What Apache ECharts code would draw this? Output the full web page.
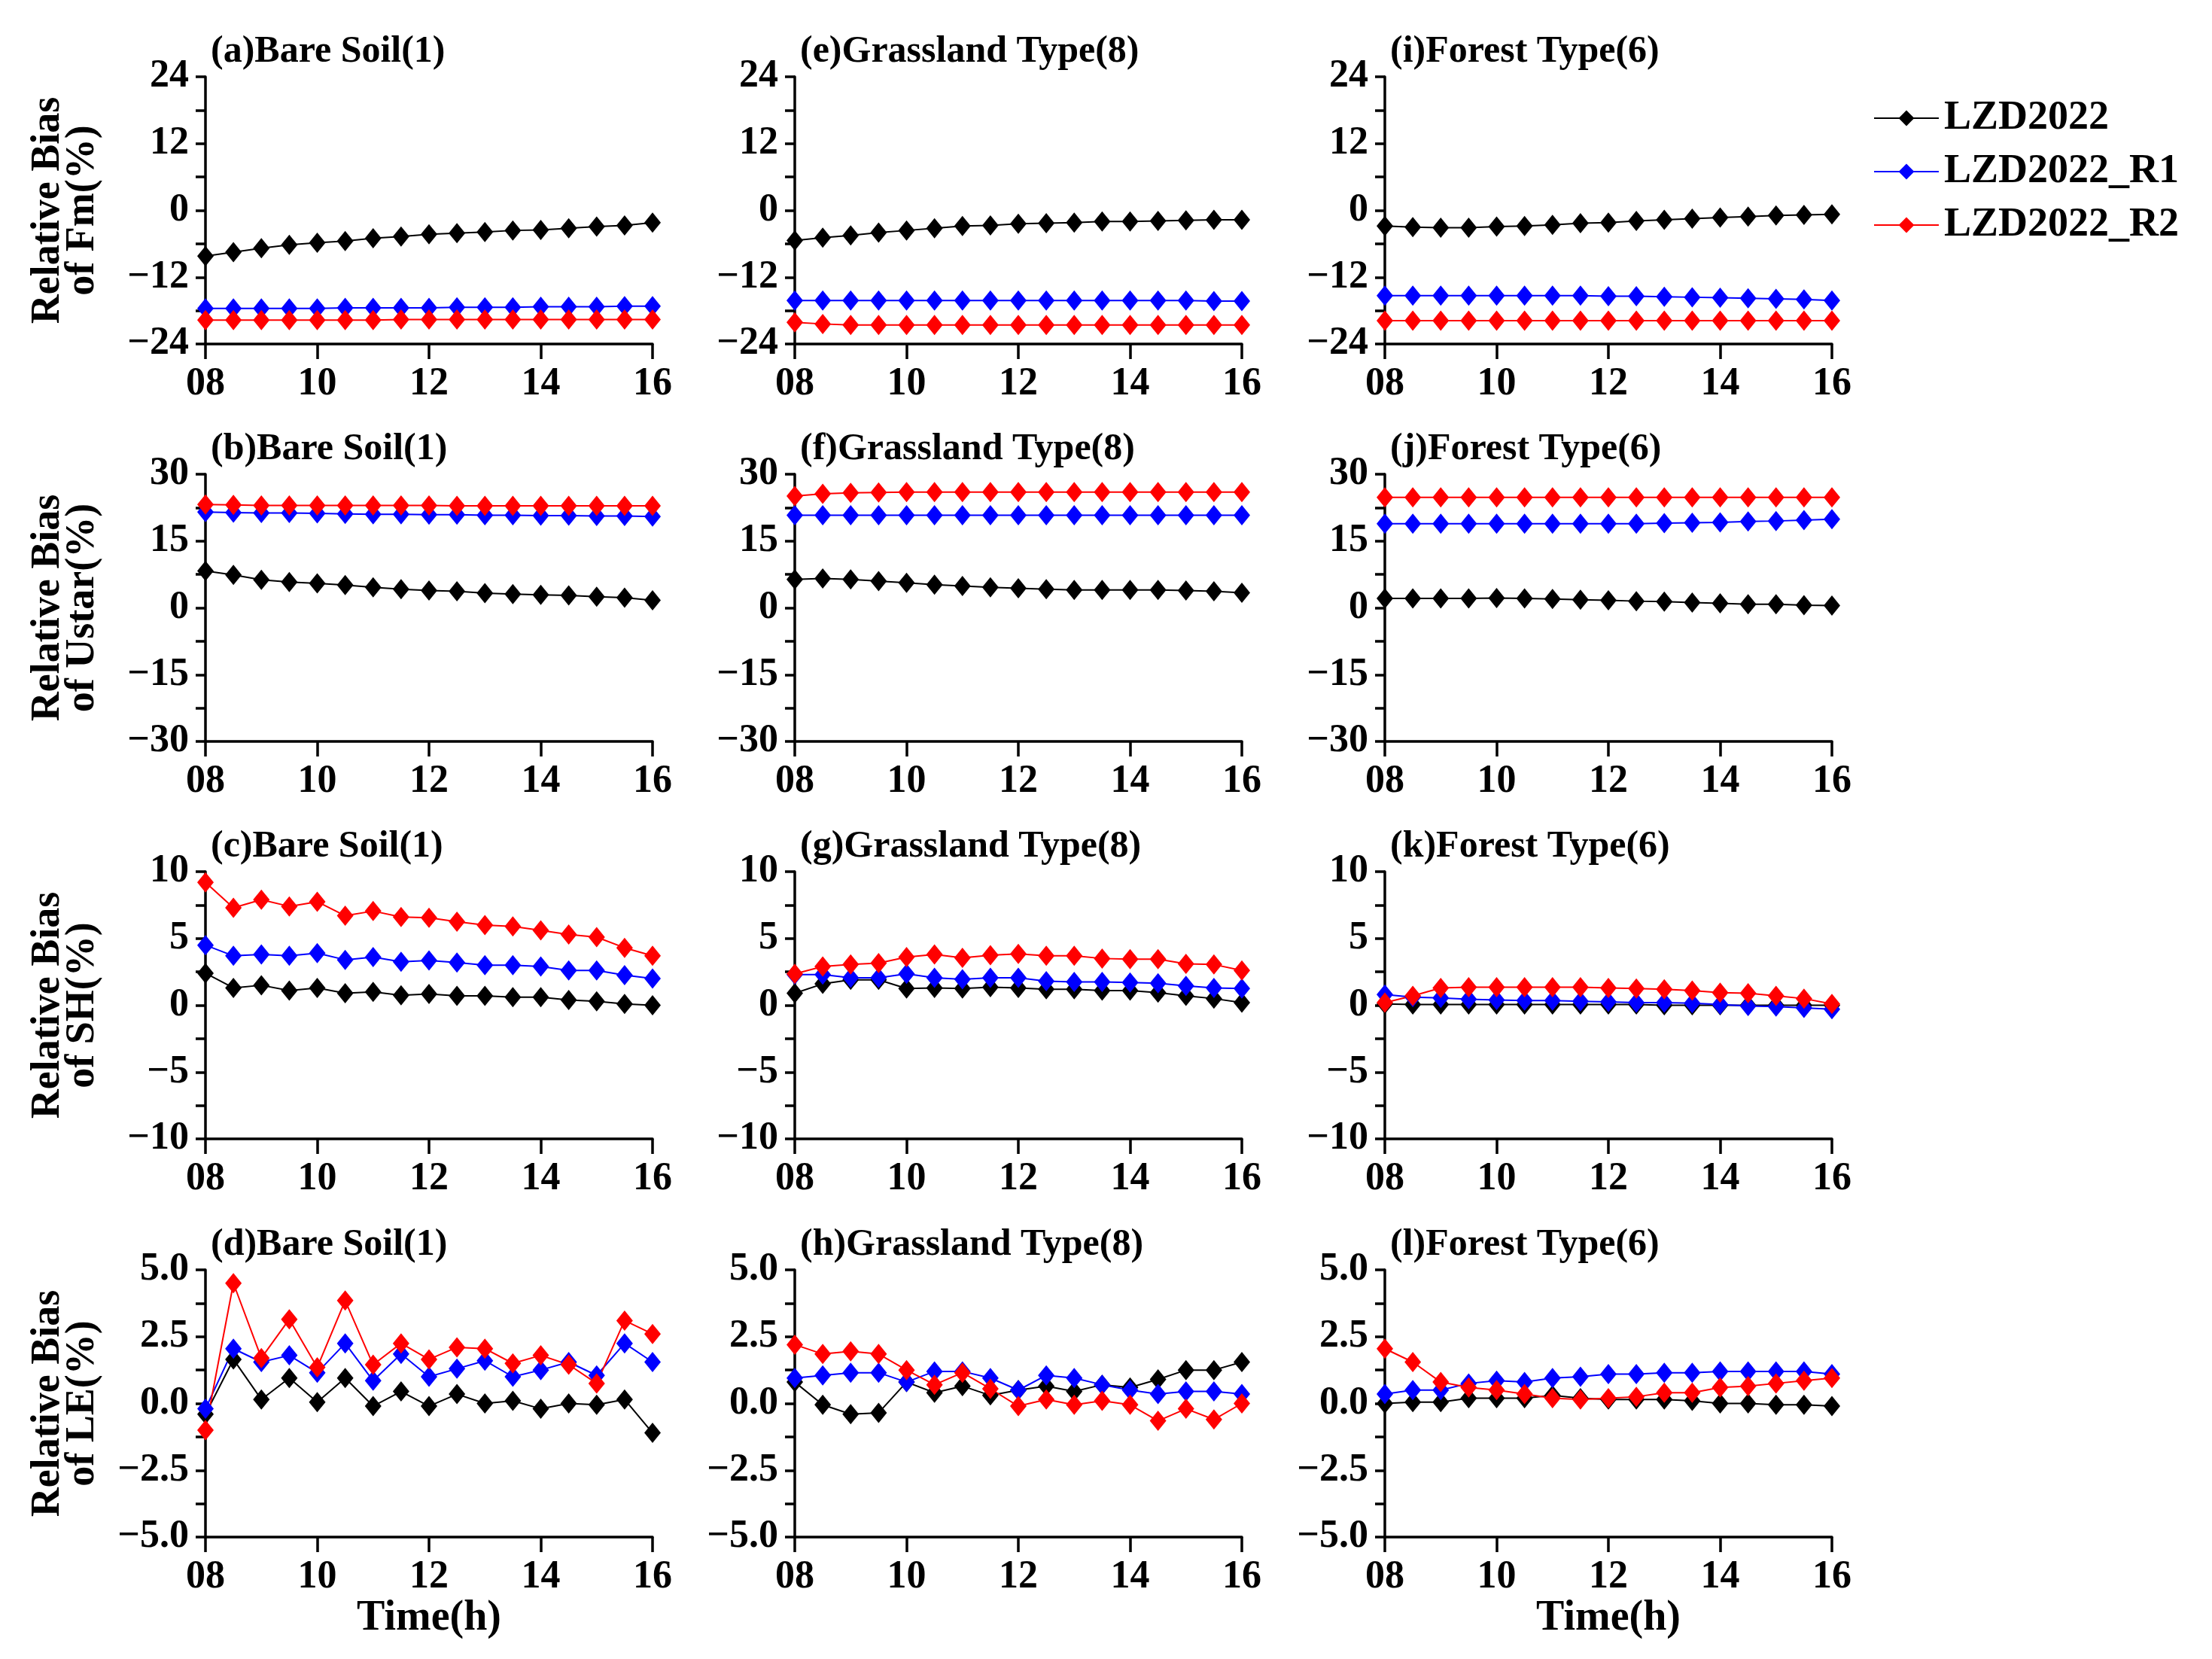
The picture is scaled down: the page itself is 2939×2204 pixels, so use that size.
<!DOCTYPE html>
<html>
<head>
<meta charset="utf-8">
<title>Relative Bias</title>
<script src="https://cdn.jsdelivr.net/npm/echarts@6/dist/echarts.min.js"></script>
<style>
    html, body { margin: 0; padding: 0; background: #fff; }
    #chart { width: 2939px; height: 2204px; }
</style>
</head>
<body>
<div id="chart"></div>
<script>
'use strict';

var hours = [8, 8.5, 9, 9.5, 10, 10.5, 11, 11.5, 12, 12.5, 13, 13.5, 14, 14.5, 15, 15.5, 16];
var seriesNames = ['LZD2022', 'LZD2022_R1', 'LZD2022_R2'];
var panelTitles = [
    '(a)Bare Soil(1)', '(b)Bare Soil(1)', '(c)Bare Soil(1)', '(d)Bare Soil(1)',
    '(e)Grassland Type(8)', '(f)Grassland Type(8)', '(g)Grassland Type(8)', '(h)Grassland Type(8)',
    '(i)Forest Type(6)', '(j)Forest Type(6)', '(k)Forest Type(6)', '(l)Forest Type(6)'
];
var rowNames = ['Relative Bias\nof Fm(%)', 'Relative Bias\nof Ustar(%)', 'Relative Bias\nof SH(%)', 'Relative Bias\nof LE(%)'];
var yTicks = [
    [-24, -12, 0, 12, 24],
    [-30, -15, 0, 15, 30],
    [-10, -5, 0, 5, 10],
    [-5.0, -2.5, 0.0, 2.5, 5.0]
];

// Fm - bare soil / grassland / forest
var aLZD = [-8.2, -7.5, -6.8, -6.2, -5.8, -5.5, -5.0, -4.7, -4.3, -4.1, -3.9, -3.6, -3.5, -3.2, -2.9, -2.7, -2.2];
var aR1 = [-17.6, -17.6, -17.6, -17.6, -17.6, -17.5, -17.5, -17.5, -17.5, -17.4, -17.4, -17.4, -17.3, -17.3, -17.3, -17.2, -17.2];
var aR2 = [-19.7, -19.7, -19.7, -19.7, -19.7, -19.7, -19.7, -19.6, -19.6, -19.6, -19.6, -19.6, -19.6, -19.6, -19.6, -19.6, -19.6];
var eLZD = [-5.4, -4.9, -4.5, -4.0, -3.6, -3.2, -2.8, -2.7, -2.4, -2.3, -2.2, -2.0, -2.0, -1.9, -1.8, -1.7, -1.7];
var eR1 = [-16.2, -16.2, -16.2, -16.2, -16.2, -16.2, -16.2, -16.2, -16.2, -16.2, -16.2, -16.2, -16.2, -16.2, -16.2, -16.3, -16.3];
var eR2 = [-20.1, -20.4, -20.6, -20.6, -20.6, -20.6, -20.6, -20.6, -20.6, -20.6, -20.6, -20.6, -20.6, -20.6, -20.6, -20.6, -20.6];
var iLZD = [-2.8, -3.0, -3.1, -3.1, -2.9, -2.8, -2.6, -2.3, -2.2, -1.9, -1.7, -1.5, -1.3, -1.1, -0.9, -0.8, -0.7];
var iR1 = [-15.3, -15.3, -15.3, -15.3, -15.3, -15.3, -15.3, -15.3, -15.4, -15.4, -15.5, -15.6, -15.7, -15.8, -15.9, -16.0, -16.2];
var iR2 = [-19.8, -19.8, -19.8, -19.8, -19.8, -19.8, -19.8, -19.8, -19.8, -19.8, -19.8, -19.8, -19.8, -19.8, -19.8, -19.8, -19.8];

// Ustar
var bLZD = [8.3, 7.4, 6.3, 5.8, 5.5, 5.1, 4.6, 4.2, 3.9, 3.7, 3.3, 3.1, 2.9, 2.8, 2.5, 2.3, 1.7];
var bR1 = [21.5, 21.4, 21.3, 21.3, 21.2, 21.1, 21.0, 21.0, 20.9, 20.9, 20.8, 20.8, 20.7, 20.7, 20.6, 20.6, 20.5];
var bR2 = [23.2, 23.1, 23.0, 23.0, 23.0, 23.0, 23.0, 23.0, 23.0, 22.9, 22.9, 22.9, 22.9, 22.9, 22.9, 22.9, 22.9];
var fLZD = [6.4, 6.6, 6.4, 6.0, 5.6, 5.2, 4.9, 4.6, 4.4, 4.2, 4.0, 4.0, 4.0, 4.0, 3.9, 3.7, 3.4];
var fR1 = [20.8, 20.8, 20.8, 20.8, 20.8, 20.8, 20.8, 20.8, 20.8, 20.8, 20.8, 20.8, 20.8, 20.8, 20.8, 20.8, 20.8];
var fR2 = [25.1, 25.6, 25.8, 25.9, 26.0, 26.0, 26.0, 26.0, 26.0, 26.0, 26.0, 26.0, 26.0, 26.0, 26.0, 26.0, 26.0];
var jLZD = [2.1, 2.1, 2.1, 2.1, 2.2, 2.1, 2.0, 1.8, 1.7, 1.5, 1.4, 1.2, 1.0, 0.8, 0.8, 0.6, 0.5];
var jR1 = [18.9, 18.9, 18.9, 18.9, 18.9, 18.9, 18.9, 18.9, 18.9, 18.9, 19.0, 19.1, 19.2, 19.4, 19.5, 19.7, 19.9];
var jR2 = [24.8, 24.8, 24.8, 24.8, 24.8, 24.8, 24.8, 24.8, 24.8, 24.8, 24.8, 24.8, 24.8, 24.8, 24.8, 24.8, 24.8];

// SH
var cLZD = [2.4, 1.3, 1.5, 1.1, 1.3, 0.9, 1.0, 0.75, 0.85, 0.7, 0.7, 0.6, 0.6, 0.4, 0.3, 0.1, 0.0];
var cR1 = [4.5, 3.7, 3.8, 3.7, 3.9, 3.4, 3.6, 3.25, 3.35, 3.2, 3.0, 3.0, 2.9, 2.6, 2.6, 2.25, 2.0];
var cR2 = [9.2, 7.3, 7.9, 7.4, 7.75, 6.7, 7.05, 6.6, 6.55, 6.25, 6.0, 5.9, 5.6, 5.3, 5.1, 4.3, 3.7];
var gLZD = [0.9, 1.6, 1.9, 1.9, 1.25, 1.3, 1.25, 1.35, 1.3, 1.2, 1.2, 1.1, 1.1, 0.95, 0.7, 0.5, 0.2];
var gR1 = [2.3, 2.3, 2.05, 2.05, 2.35, 2.05, 1.95, 2.05, 2.05, 1.8, 1.75, 1.75, 1.7, 1.65, 1.45, 1.3, 1.25];
var gR2 = [2.35, 2.9, 3.05, 3.15, 3.6, 3.8, 3.55, 3.75, 3.85, 3.7, 3.7, 3.5, 3.45, 3.45, 3.1, 3.05, 2.6];
var kLZD = [0.1, 0.05, 0.05, 0.05, 0.05, 0.05, 0.05, 0.05, 0.05, 0.05, 0.0, 0.0, 0.0, 0.0, 0.0, 0.0, 0.0];
var kR1 = [0.8, 0.6, 0.55, 0.45, 0.4, 0.35, 0.35, 0.3, 0.25, 0.2, 0.2, 0.15, 0.05, -0.05, -0.1, -0.2, -0.3];
var kR2 = [0.2, 0.7, 1.3, 1.35, 1.35, 1.35, 1.35, 1.35, 1.3, 1.25, 1.2, 1.1, 0.95, 0.9, 0.7, 0.5, 0.1];

// LE
var dLZD = [-0.4, 1.65, 0.15, 0.95, 0.05, 0.95, -0.1, 0.45, -0.1, 0.35, 0.0, 0.1, -0.2, 0.0, -0.05, 0.15, -1.1];
var dR1 = [-0.2, 2.05, 1.55, 1.8, 1.15, 2.25, 0.85, 1.85, 1.0, 1.3, 1.6, 1.0, 1.25, 1.55, 1.05, 2.25, 1.55];
var dR2 = [-1.0, 4.5, 1.7, 3.15, 1.35, 3.85, 1.45, 2.25, 1.65, 2.1, 2.05, 1.5, 1.8, 1.45, 0.75, 3.1, 2.6];
var hLZD = [0.8, -0.05, -0.4, -0.35, 0.8, 0.4, 0.65, 0.3, 0.5, 0.65, 0.45, 0.7, 0.6, 0.9, 1.25, 1.25, 1.55];
var hR1 = [0.95, 1.05, 1.15, 1.15, 0.8, 1.2, 1.2, 0.95, 0.5, 1.05, 0.95, 0.7, 0.5, 0.35, 0.45, 0.45, 0.35];
var hR2 = [2.2, 1.85, 1.95, 1.85, 1.25, 0.7, 1.15, 0.55, -0.1, 0.15, -0.05, 0.1, -0.05, -0.65, -0.2, -0.6, 0.0];
var lLZD = [0.0, 0.05, 0.05, 0.2, 0.2, 0.2, 0.3, 0.2, 0.15, 0.15, 0.15, 0.1, 0.0, 0.0, -0.05, -0.05, -0.1];
var lR1 = [0.35, 0.5, 0.5, 0.75, 0.85, 0.8, 0.95, 1.0, 1.1, 1.1, 1.15, 1.15, 1.2, 1.2, 1.2, 1.2, 1.1];
var lR2 = [2.05, 1.55, 0.8, 0.6, 0.5, 0.35, 0.2, 0.15, 0.2, 0.25, 0.4, 0.4, 0.6, 0.65, 0.75, 0.85, 0.95];

// panel order: column by column (a..d, e..h, i..l)
var panels = [
    [aLZD, aR1, aR2], [bLZD, bR1, bR2], [cLZD, cR1, cR2], [dLZD, dR1, dR2],
    [eLZD, eR1, eR2], [fLZD, fR1, fR2], [gLZD, gR1, gR2], [hLZD, hR1, hR2],
    [iLZD, iR1, iR2], [jLZD, jR1, jR2], [kLZD, kR1, kR2], [lLZD, lR1, lR2]
];

var colors = ['#000000', '#0000ff', '#ff0000'];
var font = '"Liberation Serif", "Times New Roman", serif';
var colLeft = [273, 1056, 1840];
var rowTop = [102, 630, 1158, 1687];
var plotW = 594, plotH = 355;

var fmtNum = function (v, digits) {
    var s = digits ? v.toFixed(digits) : String(v);
    return s.replace('-', '\u2212');
};

var grid = [], xAxis = [], yAxis = [], title = [], series = [];

panels.forEach(function (lines, p) {
    var col = Math.floor(p / 4), row = p % 4;
    var ticks = yTicks[row];
    var step = ticks[1] - ticks[0];
    var digits = row === 3 ? 1 : 0;

    grid.push({ left: colLeft[col], top: rowTop[row], width: plotW, height: plotH });

    title.push({
        text: panelTitles[p],
        left: colLeft[col] + 2,
        top: rowTop[row] - 63,
        textStyle: { fontFamily: font, fontSize: 50, fontWeight: 'bold', color: '#000' }
    });

    var showTime = row === 3 && col !== 1;
    xAxis.push({
        gridIndex: p,
        type: 'value',
        min: 8,
        max: 16,
        interval: 2,
        name: showTime ? 'Time(h)' : '',
        nameLocation: 'middle',
        nameGap: 80,
        nameTextStyle: { fontFamily: font, fontSize: 56, fontWeight: 'bold', color: '#000' },
        axisLine: { onZero: false, lineStyle: { color: '#000', width: 3.5 } },
        axisTick: { length: 20, lineStyle: { color: '#000', width: 3.5 } },
        axisLabel: {
            margin: 28,
            fontFamily: font, fontSize: 52, fontWeight: 'bold', color: '#000',
            formatter: function (v) { return (v < 10 ? '0' : '') + v; }
        },
        splitLine: { show: false }
    });

    yAxis.push({
        gridIndex: p,
        type: 'value',
        min: ticks[0],
        max: ticks[ticks.length - 1],
        interval: step,
        name: col === 0 ? rowNames[row] : '',
        nameLocation: 'middle',
        nameRotate: 90,
        nameGap: 140,
        nameTextStyle: { fontFamily: font, fontSize: 54, fontWeight: 'bold', color: '#000', lineHeight: 46 },
        axisLine: { show: true, lineStyle: { color: '#000', width: 3.5 } },
        axisTick: { length: 13, lineStyle: { color: '#000', width: 3.5 } },
        minorTick: { show: true, splitNumber: 2, length: 13, lineStyle: { color: '#000', width: 3.5 } },
        axisLabel: {
            margin: 22,
            fontFamily: font, fontSize: 52, fontWeight: 'bold', color: '#000',
            formatter: function (v) { return fmtNum(v, digits); }
        },
        splitLine: { show: false }
    });

    lines.forEach(function (vals, s) {
        series.push({
            name: seriesNames[s],
            type: 'line',
            xAxisIndex: p,
            yAxisIndex: p,
            data: hours.map(function (h, k) { return [h, vals[k]]; }),
            symbol: 'diamond',
            symbolSize: [22, 27],
            itemStyle: { color: colors[s] },
            lineStyle: { color: colors[s], width: 2 },
            animation: false
        });
    });
});

var chart = echarts.init(document.getElementById('chart'));
chart.setOption({
    backgroundColor: '#ffffff',
    animation: false,
    title: title,
    legend: {
        data: seriesNames,
        orient: 'vertical',
        left: 2484,
        top: 122,
        itemWidth: 86,
        itemHeight: 26,
        itemGap: 11,
        textStyle: { fontFamily: font, fontSize: 54, lineHeight: 60, fontWeight: 'bold', color: '#000', padding: [0, 0, 0, 2] }
    },
    grid: grid,
    xAxis: xAxis,
    yAxis: yAxis,
    series: series
});
</script>
</body>
</html>
